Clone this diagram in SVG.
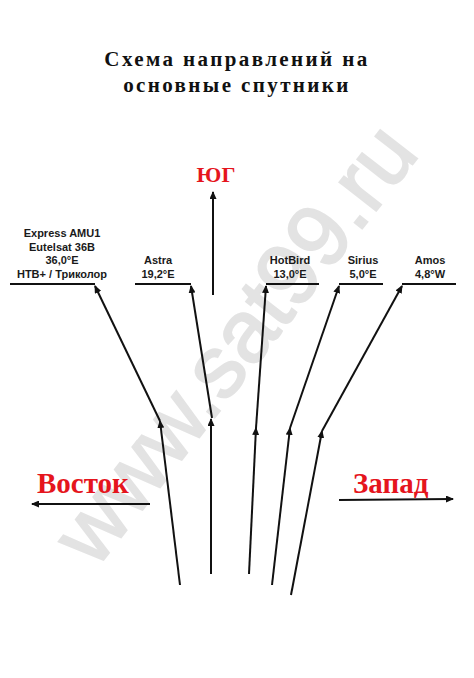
<svg xmlns="http://www.w3.org/2000/svg" width="474" height="678" viewBox="0 0 474 678">
<style>
.title{font-family:"Liberation Serif","Times New Roman",serif;font-weight:bold;font-size:21px;letter-spacing:2.4px;fill:#111;text-anchor:middle}
.red{font-family:"Liberation Serif","Times New Roman",serif;font-weight:bold;fill:#e5151d}
.lbl{font-family:"Liberation Sans",Arial,sans-serif;font-weight:bold;font-size:11px;fill:#1a1a1a;text-anchor:middle}
.base{stroke:#111;stroke-width:2;fill:none}
.con line{stroke:#111;stroke-width:2;fill:none;marker-end:url(#ah)}
.wm{font-family:"Liberation Sans",Arial,sans-serif;font-size:88px;fill:#e3e3e3;stroke:#e3e3e3;stroke-width:2;text-anchor:middle}
</style>
<defs>
<marker id="ah" markerUnits="userSpaceOnUse" markerWidth="9" markerHeight="7" refX="7" refY="3.5" orient="auto">
<path d="M0,0 L8,3.5 L0,7 Z" fill="#111"/>
</marker>
</defs>
<rect width="474" height="678" fill="#fff"/>
<text class="wm" x="258" y="362" transform="rotate(-52 258 362)">www.sat99.ru</text>
<g id="title">
<text class="title" x="237" y="66">Схема направлений на</text>
<text class="title" x="237" y="92">основные спутники</text>
</g>
<g id="south"><text class="red" x="216" y="182" font-size="22" text-anchor="middle">ЮГ</text></g>
<g id="east"><text class="red" x="37" y="493" font-size="29">Восток</text></g>
<g id="west"><text class="red" x="353" y="493" font-size="29">Запад</text></g>
<g id="express">
<text class="lbl" x="62" y="237">Express AMU1</text>
<text class="lbl" x="62" y="251">Eutelsat 36B</text>
<text class="lbl" x="62" y="264">36,0°E</text>
<text class="lbl" x="62" y="278">НТВ+ / Триколор</text>
<line class="base" x1="10" y1="284" x2="95" y2="284"/>
</g>
<g id="astra">
<text class="lbl" x="158" y="264">Astra</text>
<text class="lbl" x="158" y="278">19,2°E</text>
<line class="base" x1="135" y1="284" x2="191" y2="284"/>
</g>
<g id="hotbird">
<text class="lbl" x="290" y="264">HotBird</text>
<text class="lbl" x="290" y="278">13,0°E</text>
<line class="base" x1="266" y1="284" x2="319" y2="284"/>
</g>
<g id="sirius">
<text class="lbl" x="363" y="264">Sirius</text>
<text class="lbl" x="363" y="278">5,0°E</text>
<line class="base" x1="339" y1="284" x2="383" y2="284"/>
</g>
<g id="amos">
<text class="lbl" x="430" y="264">Amos</text>
<text class="lbl" x="430" y="278">4,8°W</text>
<line class="base" x1="402" y1="284" x2="456" y2="284"/>
</g>
<g id="connectors" class="con">
<line x1="213" y1="295" x2="213" y2="192"/>
<line x1="150" y1="504" x2="32" y2="504"/>
<line x1="339" y1="500" x2="453" y2="499"/>
<line x1="180" y1="585" x2="160" y2="421"/>
<line x1="160" y1="421" x2="95" y2="286"/>
<line x1="211" y1="574" x2="211" y2="419"/>
<line x1="212" y1="418" x2="191" y2="286"/>
<line x1="249" y1="574" x2="256" y2="428"/>
<line x1="256" y1="428" x2="266" y2="286"/>
<line x1="272" y1="585" x2="290" y2="428"/>
<line x1="290" y1="428" x2="339" y2="286"/>
<line x1="291" y1="595" x2="322" y2="431"/>
<line x1="322" y1="431" x2="402" y2="286"/>
</g>
</svg>
